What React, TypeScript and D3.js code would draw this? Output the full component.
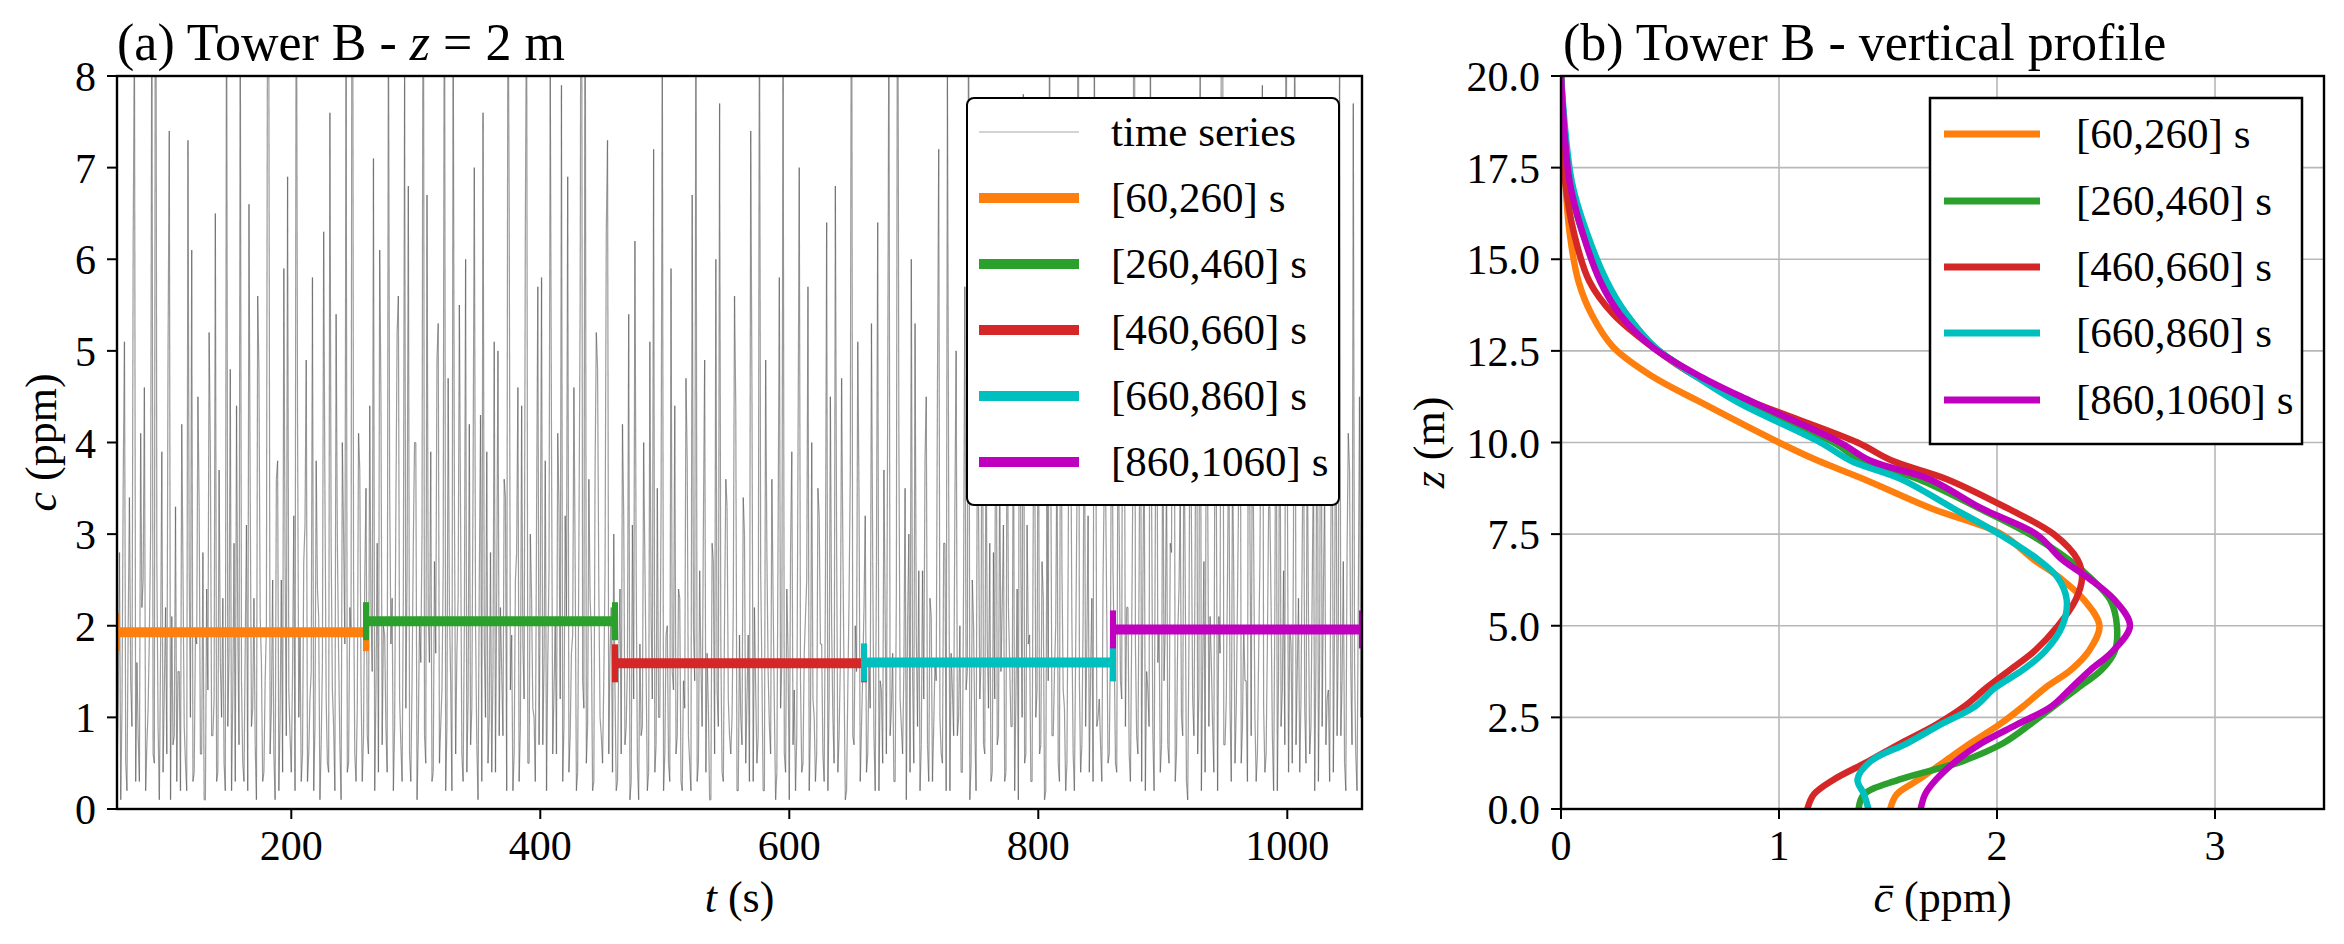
import React from "react";
import * as d3 from "d3";

// ---------- Panel (a): concentration time series at z = 2 m (1 s steps from t = 60 s) ----------
const tsStart = 60;
// samples at even seconds: t = 60, 62, ..., 1060
const tsEven: number[] = [
  0.4, 2.8, 1.1, 5.1, 0.2, 3.4, 0.9, 8.6, 1.6, 0.3, 2.2, 4.6, 0.7, 1.9, 9.3, 0.5, 2.7, 0.1, 3.9, 1.3, 0.6, 7.4, 2.1, 0.8, 0.3,
  1.5, 4.2, 0.9, 0.2, 2.6, 6.1, 0.4, 1.8, 3.3, 0.6, 0.1, 2.4, 5.2, 0.8, 1.2, 0.3, 3.7, 1.0, 0.5, 9.8, 1.7, 0.2, 2.9, 4.4, 0.7,
  1.4, 0.3, 3.1, 6.6, 0.9, 2.3, 0.1, 4.8, 1.6, 0.4, 2.0, 7.9, 1.1, 0.6, 3.6, 0.2, 2.5, 5.9, 0.8, 1.3, 0.4, 3.2, 10.5, 1.0, 0.3,
  2.7, 4.9, 0.6, 1.5, 0.2, 3.8, 2.1, 0.7, 6.3, 1.2, 0.4, 2.9, 0.9, 5.4, 1.7, 0.1, 3.0, 8.2, 0.5, 1.9, 2.6, 0.3, 4.1, 1.4, 0.8,
  3.5, 0.6, 2.2, 7.1, 1.3, 0.4, 4.5, 2.0, 0.9, 9.1, 1.8, 0.2, 3.3, 5.6, 0.7, 2.4, 1.1, 6.8, 0.3, 2.9, 4.0, 0.8, 1.6, 11.2, 0.5,
  2.1, 3.9, 0.4, 1.7, 5.3, 0.9, 2.6, 0.2, 4.7, 1.4, 8.8, 0.6, 2.3, 3.1, 0.3, 6.0, 1.2, 0.7, 3.6, 2.0, 0.1, 4.3, 7.6, 1.0, 0.5,
  2.8, 1.5, 0.4, 5.0, 2.2, 0.8, 3.4, 9.6, 1.3, 0.2, 2.5, 4.6, 0.9, 1.8, 6.4, 0.5, 3.0, 1.1, 0.3, 5.7, 2.4, 0.7, 3.8, 1.6, 8.1,
  0.6, 2.0, 4.1, 1.2, 0.3, 3.2, 6.9, 0.8, 1.9, 2.7, 0.4, 5.5, 1.4, 10.2, 0.9, 2.3, 0.2, 3.7, 4.8, 1.0, 0.5, 2.6, 7.3, 1.7, 0.4,
  1.3, 0.3, 2.4, 4.2, 0.7, 1.6, 0.1, 3.1, 6.2, 0.5, 1.8, 0.9, 2.7, 0.2, 5.1, 1.2, 0.4, 3.5, 1.0, 8.4, 0.6, 2.0, 0.3, 1.5, 4.4,
  0.8, 2.3, 0.2, 1.1, 3.8, 0.5, 6.7, 1.4, 0.3, 2.6, 0.9, 4.9, 1.7, 0.1, 2.9, 0.6, 1.3, 7.7, 0.4, 2.1, 3.3, 0.8, 1.0, 5.6, 0.2,
  1.9, 0.7, 3.0, 1.2, 0.3, 4.6, 2.2, 0.5, 9.4, 1.5, 0.2, 2.8, 0.9, 3.6, 1.1, 0.4, 5.8, 1.6, 0.6, 2.4, 0.1, 3.9, 1.3, 0.8, 7.0,
  0.4, 1.7, 2.5, 0.2, 4.0, 1.0, 0.6, 3.2, 1.8, 0.3, 6.4, 1.2, 2.0, 0.5, 2.9, 0.8, 4.7, 1.4, 0.2, 2.3, 10.8, 0.7, 1.5, 3.4, 0.9,
  2.2, 0.4, 1.6, 5.3, 0.8, 2.7, 0.2, 1.3, 3.7, 0.6, 8.9, 1.1, 0.3, 2.4, 4.1, 0.9, 1.5, 0.1, 3.0, 6.0, 0.5, 1.9, 2.6, 0.7, 1.2,
  4.5, 0.3, 2.1, 0.9, 1.4, 7.2, 0.6, 2.9, 0.2, 3.5, 1.7, 0.8, 5.0, 1.0, 0.4, 2.5, 1.3, 9.7, 0.5, 2.0, 0.2, 3.3, 1.6, 0.7, 4.3,
  1.1, 0.3, 2.8, 6.5, 0.8, 1.5, 3.1, 0.4, 2.2, 0.9, 4.8, 1.2, 0.1, 2.6, 7.8, 0.6, 1.8, 0.3, 3.4, 1.0, 5.5, 0.7, 2.3, 0.2, 1.4,
  3.9, 0.8, 2.0, 0.5, 6.3, 1.3, 0.2, 2.7, 4.4, 0.6, 1.7, 11.5, 0.4, 2.1, 0.9, 3.2, 1.5, 0.3, 5.2, 1.0, 0.7, 2.5, 3.6, 0.5, 1.9,
  2.6, 0.5, 4.3, 1.4, 7.5, 0.9, 2.2, 0.3, 3.7, 1.8, 0.6, 5.9, 2.4, 0.2, 1.3, 9.0, 0.8, 3.1, 1.6, 0.4, 4.7, 2.0, 0.7, 2.9, 6.6,
  0.3, 1.9, 3.4, 0.8, 2.5, 0.1, 5.3, 1.2, 2.8, 0.6, 8.3, 1.5, 0.4, 3.6, 2.1, 0.9, 4.9, 0.2, 1.7, 10.1, 0.7, 2.6, 1.1, 3.9, 0.5,
  2.3, 6.8, 0.9, 1.4, 0.3, 3.0, 4.6, 1.0, 0.6, 2.7, 7.9, 0.4, 1.8, 3.3, 0.8, 2.2, 0.2, 5.4, 1.3, 0.7, 3.8, 2.0, 0.5, 9.5, 1.5,
  0.4, 2.9, 1.1, 4.2, 0.6, 2.4, 0.2, 6.1, 1.7, 0.9, 3.5, 1.2, 0.3, 5.0, 2.1, 0.8, 8.7, 1.4, 0.5, 2.8, 3.7, 0.7, 1.6, 0.2, 4.5,
  1.9,
];
// samples at odd seconds: t = 61, 63, ..., 1059
const tsOdd: number[] = [
  1.2, 0.1, 3.6, 0.5, 2.0, 1.4, 6.2, 0.3, 0.8, 4.1, 2.5, 0.2, 1.1, 3.0, 0.6, 12.4, 0.9, 1.7, 0.4, 2.2, 5.0, 0.1, 0.7, 3.3, 1.5,
  0.2, 2.6, 0.5, 7.3, 1.0, 0.3, 1.9, 4.5, 0.6, 2.8, 0.1, 1.3, 3.9, 0.8, 6.5, 0.4, 1.6, 2.3, 0.2, 0.9, 4.8, 1.2, 0.3, 2.0, 8.8,
  0.5, 1.8, 0.2, 3.4, 1.1, 0.7, 5.6, 2.1, 0.3, 1.4, 9.9, 0.6, 2.5, 0.1, 3.8, 1.0, 0.4, 2.7, 6.9, 0.8, 1.5, 0.2, 4.3, 1.9, 0.6,
  3.1, 0.3, 1.2, 5.8, 0.9, 2.4, 0.1, 1.6, 3.5, 0.5, 7.6, 1.3, 0.2, 2.9, 0.7, 4.0, 1.8, 0.4, 2.2, 13.0, 0.6, 1.1, 3.7, 0.3, 2.5,
  0.8, 4.4, 1.5, 0.2, 2.9, 6.1, 0.7, 1.9, 0.4, 3.5, 2.3, 0.9, 5.2, 1.2, 0.3, 8.0, 2.6, 0.6, 1.4, 4.0, 0.1, 2.1, 3.0, 0.8, 6.7,
  1.6, 0.3, 2.7, 4.9, 0.5, 1.3, 10.6, 0.9, 2.2, 0.2, 3.4, 1.7, 5.5, 0.6, 2.0, 0.4, 4.2, 1.1, 7.0, 0.7, 2.5, 0.3, 1.8, 3.9, 1.0,
  0.4, 5.1, 2.4, 0.8, 1.5, 3.6, 0.2, 6.6, 1.9, 0.6, 2.8, 0.3, 4.4, 1.2, 9.2, 0.5, 2.3, 1.0, 3.2, 0.7, 5.8, 1.6, 0.2, 2.6, 4.0,
  1.3, 0.6, 3.3, 7.9, 0.9, 2.1, 0.4, 1.7, 4.6, 0.2, 2.9, 12.1, 1.1, 0.5, 3.6, 1.9, 0.3, 5.2, 2.4, 0.8, 1.4, 6.3, 0.6, 2.2, 3.0,
  0.2, 1.7, 0.6, 3.2, 0.9, 5.4, 0.3, 1.2, 2.6, 0.1, 0.8, 4.0, 1.5, 0.4, 2.1, 7.2, 0.7, 1.0, 3.3, 0.2, 1.9, 0.5, 5.9, 1.3, 0.6,
  2.4, 0.3, 1.4, 4.7, 0.8, 0.2, 2.0, 9.0, 0.5, 1.6, 3.1, 0.4, 1.1, 0.1, 2.7, 6.0, 0.9, 1.8, 0.3, 3.6, 1.2, 0.6, 2.2, 4.4, 0.2,
  1.0, 3.4, 0.5, 1.9, 7.4, 0.3, 1.3, 0.8, 2.6, 0.2, 4.9, 1.5, 0.6, 2.3, 0.1, 3.0, 1.1, 8.6, 0.4, 1.7, 2.8, 0.7, 0.2, 3.9, 1.4,
  0.5, 2.1, 5.7, 0.9, 1.2, 0.3, 3.5, 1.8, 0.6, 2.4, 0.2, 4.5, 1.0, 6.8, 0.4, 1.6, 2.9, 0.1, 1.3, 3.7, 0.8, 2.0, 5.1, 0.3, 1.5,
  3.2, 0.6, 1.1, 2.7, 0.2, 6.4, 1.4, 0.5, 2.1, 4.3, 0.8, 1.7, 0.3, 10.9, 1.2, 0.6, 3.5, 2.0, 0.4, 1.5, 5.3, 0.9, 0.2, 2.6, 3.8,
  0.7, 2.3, 0.3, 1.6, 4.6, 1.0, 0.5, 2.9, 8.1, 0.2, 1.3, 3.3, 0.8, 2.0, 0.4, 5.7, 1.5, 0.1, 2.5, 0.9, 3.9, 1.2, 6.2, 0.6, 1.8,
  2.9, 0.4, 1.2, 0.7, 3.8, 2.2, 0.3, 5.0, 1.6, 0.9, 0.2, 2.4, 7.6, 1.0, 0.5, 3.1, 1.9, 0.3, 4.5, 1.3, 0.6, 2.7, 0.1, 3.5, 9.3,
  0.8, 1.5, 4.1, 0.3, 2.6, 1.1, 0.5, 6.0, 2.0, 0.2, 3.3, 1.4, 0.7, 4.9, 1.8, 0.4, 2.3, 8.4, 0.9, 1.2, 0.3, 3.6, 2.1, 0.6, 5.4,
  1.7, 0.4, 3.0, 1.2, 5.5, 2.2, 0.6, 1.9, 12.8, 0.8, 2.6, 0.3, 4.2, 1.5, 0.9, 3.4, 0.2, 6.1, 2.0, 0.7, 1.4, 3.7, 0.5, 2.8, 7.0,
  0.6, 2.4, 1.0, 4.4, 0.3, 1.8, 3.1, 0.8, 6.5, 1.3, 0.2, 2.7, 5.0, 0.9, 1.6, 0.4, 3.5, 2.1, 8.9, 0.7, 1.2, 4.3, 0.3, 2.5, 1.1,
  3.6, 0.5, 2.0, 1.4, 7.1, 0.8, 2.9, 0.3, 1.7, 4.8, 1.1, 0.6, 3.3, 2.2, 0.2, 5.6, 1.5, 0.9, 2.6, 10.3, 0.4, 1.8, 3.1, 0.7, 2.3,
  1.2, 4.6, 0.5, 2.1, 0.9, 3.9, 1.6, 0.3, 6.8, 2.4, 0.7, 1.3, 3.0, 0.4, 5.3, 1.9, 0.8, 2.7, 0.2, 4.1, 1.5, 7.7, 0.6, 2.2, 1.0,
];

// averaging windows and their means
const windowStart = [60, 260, 460, 660, 860];
const windowEnd = [260, 460, 660, 860, 1060];
const windowMean = [1.93, 2.05, 1.59, 1.6, 1.96];
const windowLabel = ["[60,260]", "[260,460]", "[460,660]", "[660,860]", "[860,1060]"];
const seriesColor = ["#ff7f0e", "#2ca02c", "#d62728", "#00bfbf", "#bf00bf"];

// ---------- Panel (b): vertical profiles ----------
const profileZ = [0, 0.4, 0.8, 1.3, 1.8, 2.3, 2.8, 3.3, 3.8, 4.3, 5.0, 5.7, 6.3, 6.8, 7.5, 8.2, 9.0, 9.5, 10.0, 11.1, 11.8, 12.6, 13.5, 14.4, 15.7, 17.1, 20.0];
const profile60 = [1.51, 1.54, 1.64, 1.76, 1.88, 2.01, 2.12, 2.22, 2.34, 2.42, 2.47, 2.4, 2.29, 2.17, 2.02, 1.7, 1.39, 1.18, 1.0, 0.64, 0.42, 0.24, 0.14, 0.08, 0.04, 0.02, 0.0];
const profile260 = [1.365, 1.39, 1.55, 1.84, 2.03, 2.15, 2.26, 2.37, 2.48, 2.54, 2.55, 2.52, 2.43, 2.33, 2.15, 1.92, 1.64, 1.38, 1.25, 0.85, 0.63, 0.43, 0.3, 0.2, 0.1, 0.04, 0.0];
const profile460 = [1.13, 1.16, 1.25, 1.41, 1.56, 1.72, 1.85, 1.95, 2.06, 2.17, 2.28, 2.36, 2.39, 2.37, 2.26, 2.05, 1.77, 1.52, 1.36, 0.88, 0.62, 0.42, 0.24, 0.13, 0.06, 0.02, 0.0];
const profile660 = [1.41, 1.39, 1.36, 1.42, 1.59, 1.74, 1.9, 1.99, 2.12, 2.22, 2.3, 2.32, 2.28, 2.19, 2.01, 1.8, 1.56, 1.33, 1.19, 0.81, 0.62, 0.43, 0.3, 0.21, 0.12, 0.05, 0.0];
const profile860 = [1.65, 1.67, 1.72, 1.81, 1.93, 2.09, 2.25, 2.34, 2.43, 2.53, 2.61, 2.54, 2.42, 2.3, 2.18, 1.93, 1.69, 1.42, 1.28, 0.88, 0.64, 0.42, 0.27, 0.18, 0.1, 0.04, 0.0];
const profiles = [profile60, profile260, profile460, profile660, profile860];

// ticks
const xTicksA = [200, 400, 600, 800, 1000];
const yTicksA = [0, 1, 2, 3, 4, 5, 6, 7, 8];
const xTicksB = [0, 1, 2, 3];
const yTicksB = [0, 2.5, 5, 7.5, 10, 12.5, 15, 17.5, 20];

const FONT = "'Liberation Serif', 'Times New Roman', serif";

export default function App() {
  const W = 2344;
  const H = 944;
  const A = { l: 117, r: 1362, t: 76, b: 809 };
  const B = { l: 1561, r: 2324, t: 76, b: 809 };

  const xA = d3.scaleLinear().domain([60, 1060]).range([A.l, A.r]);
  const yA = d3.scaleLinear().domain([0, 8]).range([A.b, A.t]);
  const xB = d3.scaleLinear().domain([0, 3.5]).range([B.l, B.r]);
  const yB = d3.scaleLinear().domain([0, 20]).range([B.b, B.t]);

  // interleave the even- and odd-second samples into one series
  const series: { t: number; c: number }[] = [];
  tsEven.forEach((c, i) => {
    series.push({ t: tsStart + 2 * i, c });
    if (i < tsOdd.length) series.push({ t: tsStart + 2 * i + 1, c: tsOdd[i] });
  });
  const segs = series.slice(1).map((p, i) => ({
    x1: xA(series[i].t),
    y1: yA(series[i].c),
    x2: xA(p.t),
    y2: yA(p.c),
  }));

  const profLine = d3
    .line<number>()
    .x((d) => xB(d))
    .y((_, i) => yB(profileZ[i]))
    .curve(d3.curveCatmullRom.alpha(0.5));

  const tickFs = 42;
  const legFs = 43;
  const labFs = 44;
  const titleFs = 52;
  const spineW = 2.4;

  const legARows = [132, 198, 264, 330, 396, 462];
  const legBRows = [134, 201, 267, 333, 400];

  return (
    <svg
      width={W}
      height={H}
      style={{ position: "absolute", left: 0, top: 0, background: "#fff" }}
      fontFamily={FONT}
    >
      <defs>
        <clipPath id="clipA">
          <rect x={A.l} y={A.t} width={A.r - A.l} height={A.b - A.t} />
        </clipPath>
        <clipPath id="clipB">
          <rect x={B.l} y={B.t} width={B.r - B.l} height={B.b - B.t} />
        </clipPath>
      </defs>
      <rect x={0} y={0} width={W} height={H} fill="#fff" />

      {/* ================= Panel (a) ================= */}
      <g clipPath="url(#clipA)">
        {segs.map((s, i) => (
          <line key={i} x1={s.x1} y1={s.y1} x2={s.x2} y2={s.y2} stroke="#5a5a5a" strokeOpacity={0.6} strokeWidth={1.2} />
        ))}
        {windowStart.map((ws, i) => {
          const y = yA(windowMean[i]);
          return (
            <g key={i} stroke={seriesColor[i]}>
              <line x1={xA(ws)} x2={xA(windowEnd[i])} y1={y} y2={y} strokeWidth={10} />
              <line x1={xA(ws)} x2={xA(ws)} y1={y - 19} y2={y + 19} strokeWidth={6} />
              <line x1={xA(windowEnd[i])} x2={xA(windowEnd[i])} y1={y - 19} y2={y + 19} strokeWidth={6} />
            </g>
          );
        })}
      </g>
      <rect x={A.l} y={A.t} width={A.r - A.l} height={A.b - A.t} fill="none" stroke="#000" strokeWidth={spineW} />
      {xTicksA.map((t) => (
        <g key={t}>
          <line x1={xA(t)} x2={xA(t)} y1={A.b} y2={A.b + 10} stroke="#000" strokeWidth={2} />
          <text x={xA(t)} y={860} fontSize={tickFs} textAnchor="middle">{t}</text>
        </g>
      ))}
      {yTicksA.map((t) => (
        <g key={t}>
          <line x1={A.l - 10} x2={A.l} y1={yA(t)} y2={yA(t)} stroke="#000" strokeWidth={2} />
          <text x={96} y={yA(t) + 15} fontSize={tickFs} textAnchor="end">{t}</text>
        </g>
      ))}
      <text x={(A.l + A.r) / 2} y={912} fontSize={labFs} textAnchor="middle">
        <tspan fontStyle="italic">t</tspan> (s)
      </text>
      <text transform={`translate(56,${(A.t + A.b) / 2}) rotate(-90)`} fontSize={labFs} textAnchor="middle">
        <tspan fontStyle="italic">c</tspan> (ppm)
      </text>
      <text x={A.l} y={60} fontSize={titleFs}>
        (a) Tower B - <tspan fontStyle="italic">z</tspan> = 2 m
      </text>

      {/* legend (a) */}
      <rect x={967} y={98} width={372} height={407} rx={7} fill="#fff" stroke="#000" strokeWidth={2} />
      <line x1={979} x2={1079} y1={legARows[0]} y2={legARows[0]} stroke="#c4c4c4" strokeWidth={1.5} />
      <text x={1111} y={legARows[0] + 14} fontSize={legFs}>time series</text>
      {windowLabel.map((lab, i) => (
        <g key={lab}>
          <line x1={979} x2={1079} y1={legARows[i + 1]} y2={legARows[i + 1]} stroke={seriesColor[i]} strokeWidth={10} />
          <text x={1111} y={legARows[i + 1] + 14} fontSize={legFs}>{lab} s</text>
        </g>
      ))}

      {/* ================= Panel (b) ================= */}
      {xTicksB.filter((t) => t > 0).map((t) => (
        <line key={t} x1={xB(t)} x2={xB(t)} y1={B.t} y2={B.b} stroke="#b8b8b8" strokeWidth={1.6} />
      ))}
      {yTicksB.filter((t) => t > 0 && t < 20).map((t) => (
        <line key={t} x1={B.l} x2={B.r} y1={yB(t)} y2={yB(t)} stroke="#b8b8b8" strokeWidth={1.6} />
      ))}
      <g clipPath="url(#clipB)">
        {profiles.map((p, i) => (
          <path key={i} d={profLine(p) || ""} fill="none" stroke={seriesColor[i]} strokeWidth={6.5} strokeLinejoin="round" />
        ))}
      </g>
      <rect x={B.l} y={B.t} width={B.r - B.l} height={B.b - B.t} fill="none" stroke="#000" strokeWidth={spineW} />
      {xTicksB.map((t) => (
        <g key={t}>
          <line x1={xB(t)} x2={xB(t)} y1={B.b} y2={B.b + 10} stroke="#000" strokeWidth={2} />
          <text x={xB(t)} y={860} fontSize={tickFs} textAnchor="middle">{t}</text>
        </g>
      ))}
      {yTicksB.map((t) => (
        <g key={t}>
          <line x1={B.l - 10} x2={B.l} y1={yB(t)} y2={yB(t)} stroke="#000" strokeWidth={2} />
          <text x={1540} y={yB(t) + 15} fontSize={tickFs} textAnchor="end">{t.toFixed(1)}</text>
        </g>
      ))}
      <text x={(B.l + B.r) / 2} y={912} fontSize={labFs} textAnchor="middle">
        <tspan fontStyle="italic">{"c\u0304"}</tspan> (ppm)
      </text>
      <text transform={`translate(1444,${(B.t + B.b) / 2}) rotate(-90)`} fontSize={labFs} textAnchor="middle">
        <tspan fontStyle="italic">z</tspan> (m)
      </text>
      <text x={B.l + 2} y={60} fontSize={titleFs}>
        (b) Tower B - vertical profile
      </text>

      {/* legend (b) */}
      <rect x={1930} y={98} width={372} height={346} fill="#fff" stroke="#000" strokeWidth={2.5} />
      {windowLabel.map((lab, i) => (
        <g key={lab}>
          <line x1={1944} x2={2040} y1={legBRows[i]} y2={legBRows[i]} stroke={seriesColor[i]} strokeWidth={7} />
          <text x={2076} y={legBRows[i] + 14} fontSize={legFs}>{lab} s</text>
        </g>
      ))}
    </svg>
  );
}
